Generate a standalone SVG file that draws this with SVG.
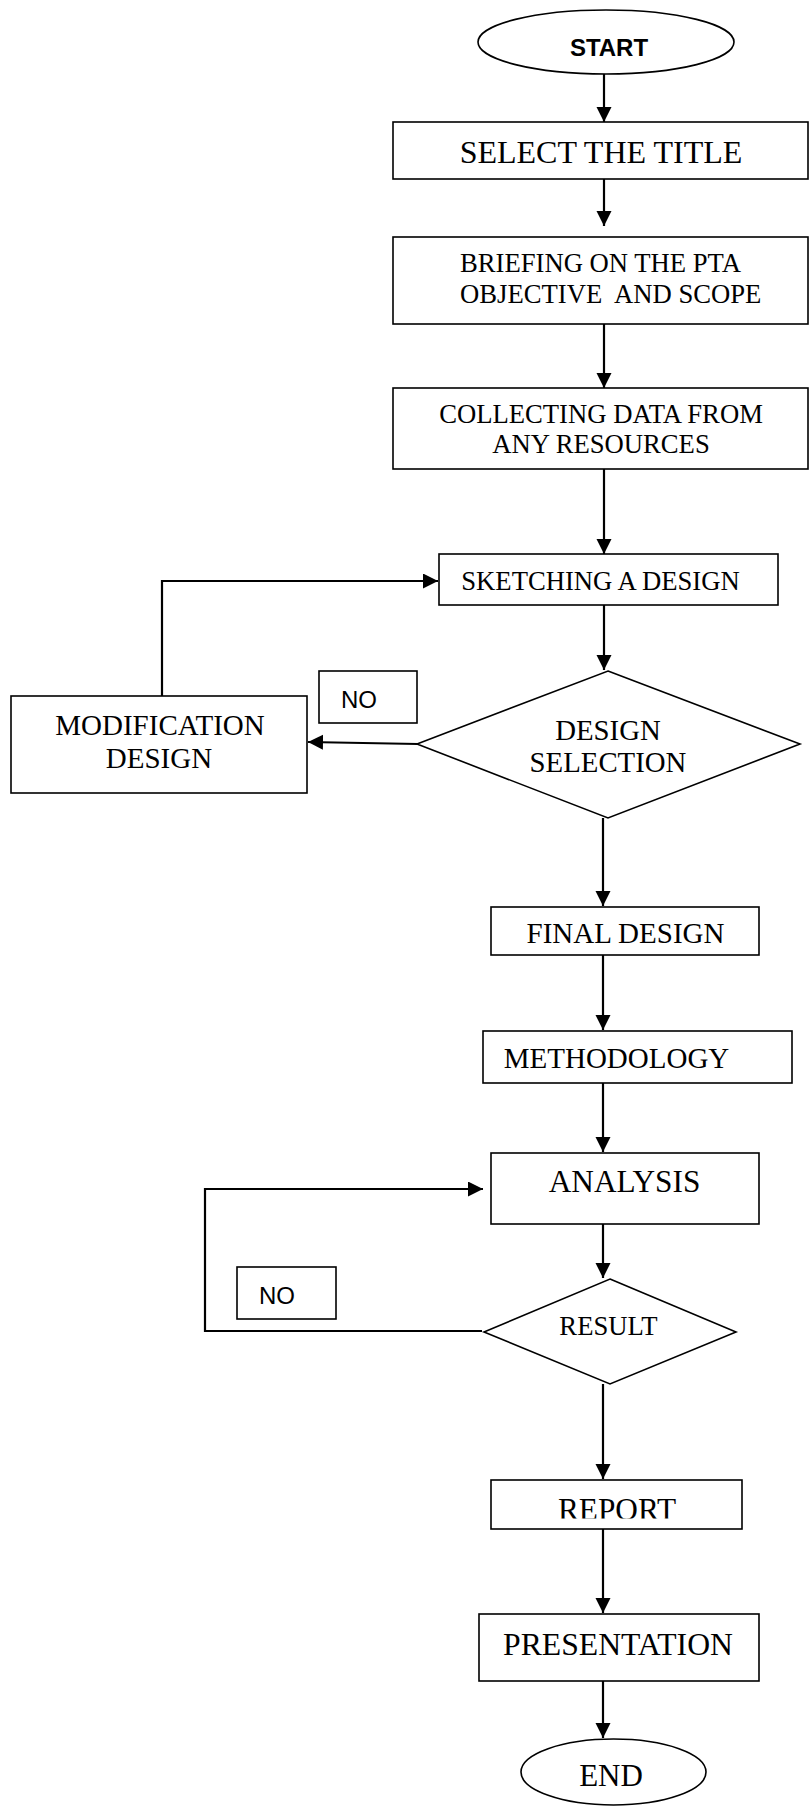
<svg xmlns="http://www.w3.org/2000/svg" width="809" height="1807" viewBox="0 0 809 1807">
<style>
.box{fill:#fff;stroke:#000;stroke-width:1.6}
.con{fill:none;stroke:#000;stroke-width:2.2}
.t{font-family:"Liberation Serif","Times New Roman",serif;fill:#000;text-anchor:middle}
.s{font-family:"Liberation Sans",Arial,sans-serif;fill:#000}
</style>
<defs>
<marker id="ah" markerUnits="userSpaceOnUse" markerWidth="16" markerHeight="16" refX="15" refY="7.5" orient="auto">
<path d="M0,0 L15,7.5 L0,15 Z" fill="#000"/>
</marker>
<clipPath id="repclip"><rect x="480" y="1480" width="280" height="38.5"/></clipPath>
</defs>
<rect width="809" height="1807" fill="#fff"/>
<g id="connectors">
<line class="con" x1="604" y1="74" x2="604" y2="122" marker-end="url(#ah)"/>
<line class="con" x1="604" y1="179" x2="604" y2="226" marker-end="url(#ah)"/>
<line class="con" x1="604" y1="324" x2="604" y2="388" marker-end="url(#ah)"/>
<line class="con" x1="604" y1="469" x2="604" y2="554" marker-end="url(#ah)"/>
<line class="con" x1="604" y1="605" x2="604" y2="670" marker-end="url(#ah)"/>
<line class="con" x1="418" y1="744" x2="308" y2="742" marker-end="url(#ah)"/>
<polyline class="con" points="162,696 162,581 438,581" marker-end="url(#ah)"/>
<line class="con" x1="603" y1="818" x2="603" y2="906" marker-end="url(#ah)"/>
<line class="con" x1="603" y1="955" x2="603" y2="1030" marker-end="url(#ah)"/>
<line class="con" x1="603" y1="1083" x2="603" y2="1152" marker-end="url(#ah)"/>
<line class="con" x1="603" y1="1224" x2="603" y2="1278" marker-end="url(#ah)"/>
<polyline class="con" points="482,1331 205,1331 205,1189 483,1189" marker-end="url(#ah)"/>
<line class="con" x1="603" y1="1384" x2="603" y2="1479" marker-end="url(#ah)"/>
<line class="con" x1="603" y1="1529" x2="603" y2="1613" marker-end="url(#ah)"/>
<line class="con" x1="603" y1="1681" x2="603" y2="1738" marker-end="url(#ah)"/>
</g>
<g id="start">
<ellipse class="box" cx="606" cy="42" rx="128" ry="32"/>
<text class="s" x="609" y="56" font-size="24" font-weight="bold" text-anchor="middle">START</text>
</g>
<g id="select-title">
<rect class="box" x="393" y="122" width="415" height="57"/>
<text class="t" x="601" y="163" font-size="32">SELECT THE TITLE</text>
</g>
<g id="briefing">
<rect class="box" x="393" y="237" width="415" height="87"/>
<text class="t" x="460" y="272" font-size="26.67" text-anchor="start" style="text-anchor:start">BRIEFING ON THE PTA</text>
<text class="t" x="460" y="303" font-size="26.67" style="text-anchor:start;white-space:pre" xml:space="preserve">OBJECTIVE  AND SCOPE</text>
</g>
<g id="collecting">
<rect class="box" x="393" y="388" width="415" height="81"/>
<text class="t" x="601" y="423" font-size="26.67">COLLECTING DATA FROM</text>
<text class="t" x="601" y="453" font-size="26.67">ANY RESOURCES</text>
</g>
<g id="sketching">
<rect class="box" x="439" y="554" width="339" height="51"/>
<text class="t" x="600.5" y="590" font-size="26.67">SKETCHING A DESIGN</text>
</g>
<g id="design-selection">
<polygon class="box" points="608,671 800,744 608,818 417,744"/>
<text class="t" x="608" y="740" font-size="28.8">DESIGN</text>
<text class="t" x="608" y="772" font-size="28.8">SELECTION</text>
</g>
<g id="no-1">
<rect class="box" x="319" y="671" width="98" height="52"/>
<text class="s" x="341" y="708" font-size="24">NO</text>
</g>
<g id="modification">
<rect class="box" x="11" y="696" width="296" height="97"/>
<text class="t" x="160" y="735" font-size="29">MODIFICATION</text>
<text class="t" x="159" y="768" font-size="29">DESIGN</text>
</g>
<g id="final-design">
<rect class="box" x="491" y="907" width="268" height="48"/>
<text class="t" x="625.5" y="943" font-size="29">FINAL DESIGN</text>
</g>
<g id="methodology">
<rect class="box" x="483" y="1031" width="309" height="52"/>
<text class="t" x="616.5" y="1068" font-size="29">METHODOLOGY</text>
</g>
<g id="analysis">
<rect class="box" x="491" y="1153" width="268" height="71"/>
<text class="t" x="624.5" y="1192" font-size="31.3">ANALYSIS</text>
</g>
<g id="no-2">
<rect class="box" x="237" y="1267" width="99" height="52"/>
<text class="s" x="259" y="1304" font-size="24">NO</text>
</g>
<g id="result">
<polygon class="box" points="610,1279 736,1332 610,1384 484,1332"/>
<text class="t" x="608.5" y="1335" font-size="26.67">RESULT</text>
</g>
<g id="report">
<rect class="box" x="491" y="1480" width="251" height="49"/>
<text class="t" x="617" y="1520" font-size="31.3" clip-path="url(#repclip)">REPORT</text>
</g>
<g id="presentation">
<rect class="box" x="479" y="1614" width="280" height="67"/>
<text class="t" x="618" y="1655" font-size="31.7">PRESENTATION</text>
</g>
<g id="end">
<ellipse class="box" cx="613.5" cy="1772" rx="92.5" ry="33"/>
<text class="t" x="611" y="1786" font-size="31">END</text>
</g>
</svg>
